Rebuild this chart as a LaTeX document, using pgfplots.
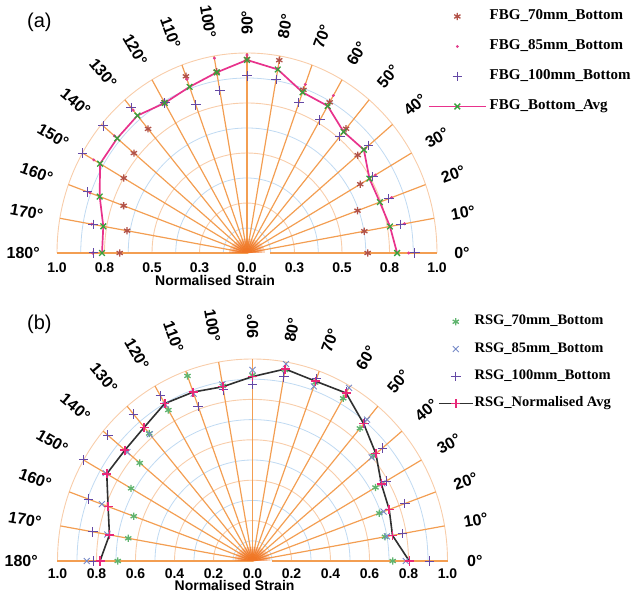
\documentclass[border=0pt]{standalone}
\usepackage{pgfplots}
\pgfplotsset{compat=1.18}
\usepackage{pgfplotstable}
\usepgfplotslibrary{polar}
\usepackage{fontspec}
\setmainfont{Liberation Sans}
\newfontfamily\lsans{Liberation Sans}
\newfontfamily\lserif{Liberation Serif}

\definecolor{radial}{RGB}{243,158,82}
\definecolor{ringO}{RGB}{248,205,170}
\definecolor{ringB}{RGB}{192,218,242}
\definecolor{blobc}{RGB}{240,110,30}
\definecolor{c70a}{RGB}{178,82,72}
\definecolor{c85a}{RGB}{226,60,140}
\definecolor{c100}{RGB}{100,72,165}
\definecolor{avga}{RGB}{232,50,140}
\definecolor{xgreen}{RGB}{55,160,60}
\definecolor{c70b}{RGB}{95,180,110}
\definecolor{c85b}{RGB}{118,138,200}
\definecolor{avgb}{RGB}{48,48,48}
\definecolor{pinkb}{RGB}{232,40,120}

\newcommand\ticfont{\lsans\bfseries\fontsize{14bp}{16bp}\selectfont}
\newcommand\angfont{\lsans\bfseries\fontsize{16bp}{18bp}\selectfont}

\pgfplotsset{
  legA/.style={legend image code/.code={\path (0bp,0bp) (57bp,0bp);
     \draw[mark repeat=2,mark phase=2,##1] plot coordinates {(0bp,0bp) (28.5bp,0bp) (57bp,0bp)};}},
  legB/.style={legend image code/.code={\path (0bp,0bp) (34bp,0bp);
     \draw[mark repeat=2,mark phase=2,##1] plot coordinates {(0bp,0bp) (17bp,0bp) (34bp,0bp)};}},
}

% angle (deg)  radius (normalised strain)
\pgfplotstableread{
ang r70 r85 r100 ravg
0   0.635 0.851 0.884 0.790
10  0.627 0.842 0.823 0.764
20  0.619 0.810 0.794 0.744
30  0.688 0.780 0.764 0.744
40  0.761 0.812 0.836 0.803
50  0.811 0.802 0.760 0.791
60  0.870 0.909 0.768 0.849
70  0.868 0.897 0.800 0.855
80  0.979 0.936 0.881 0.932
90  0.970 0.990 0.885 0.965
100 0.920 0.989 0.824 0.917
110 0.940 0.924 0.788 0.884
120 0.870 0.862 0.866 0.866
130 0.810 0.932 0.949 0.897
140 0.777 0.911 0.988 0.892
150 0.749 0.931 0.999 0.893
160 0.691 0.880 0.893 0.825
170 0.641 0.830 0.823 0.768
180 0.670 0.812 0.807 0.763
}\dataA

\pgfplotstableread{
ang r70 r85 r100 ravg
0   0.719 0.786 0.907 0.804
10  0.690 0.700 0.781 0.729
20  0.692 0.715 0.831 0.746
30  0.728 0.769 0.792 0.763
40  0.810 0.798 0.870 0.826
50  0.857 0.914 0.890 0.887
60  0.930 0.990 0.965 0.960
70  0.940 0.920 0.960 0.947
80  0.960 0.990 0.926 0.965
90  0.920 0.946 0.875 0.913
100 0.880 0.888 0.860 0.876
110 0.975 0.882 0.813 0.890
120 0.863 0.893 0.944 0.900
130 0.824 0.819 0.949 0.864
140 0.755 0.838 0.969 0.854
150 0.719 0.870 1.000 0.863
160 0.648 0.822 0.894 0.788
170 0.647 0.756 0.832 0.745
180 0.691 0.850 0.816 0.782
}\dataB

\begin{document}
\begin{tikzpicture}
\useasboundingbox (0,0) rectangle (631bp,598bp);

\node[font=\lsans\fontsize{20bp}{22bp}\selectfont, anchor=west, inner sep=0pt] at (27bp,575.5bp) {(a)};
\node[font=\lsans\fontsize{20bp}{22bp}\selectfont, anchor=west, inner sep=0pt] at (27bp,274bp) {(b)};

% ---------------- panel (a)
\begin{axis}[
  at={(57bp,345bp)}, anchor=south west,
  x=190bp, y=200bp,
  xmin=-1, xmax=1, ymin=0, ymax=1,
  clip=false,
  axis x line*=bottom, hide y axis,
  x axis line style={draw=none},
  major tick length=0pt,
  xtick={-1,-0.75,-0.5,-0.25,0,0.25,0.5,0.75,1},
  xticklabels={\textbf{1.0},\textbf{0.8},\textbf{0.5},\textbf{0.3},\textbf{0.0},\textbf{0.3},\textbf{0.5},\textbf{0.8},\textbf{1.0}},
  xticklabel style={font=\ticfont, anchor=north, inner sep=0pt, text height=10bp, text depth=0pt, yshift=-9bp},
  xlabel={Normalised Strain},
  xlabel style={at={(axis description cs:0.416,0)}, anchor=north, inner sep=0pt, text height=10bp, text depth=0pt, yshift=-22bp, font=\ticfont},
  legend style={at={(0.9763,1.22)}, anchor=north west, draw=none, fill=none,
     inner sep=0pt, outer sep=0pt, row sep=15bp,
     font=\lserif\bfseries\fontsize{15bp}{17bp}\selectfont,
     nodes={inner sep=0pt, text height=11bp, text depth=4bp},
     /tikz/every odd column/.append style={column sep=3bp},
     cells={anchor=west}},
]
\pgfplotsinvokeforeach{0.125,0.375,0.625,0.875}{
  \draw[ringB, line width=0.8bp] (axis cs:#1,0) arc[start angle=0, end angle=180, x radius=#1*190bp, y radius=#1*200bp];
}
\pgfplotsinvokeforeach{0.25,0.5,0.75,1}{
  \draw[ringO, line width=0.9bp] (axis cs:#1,0) arc[start angle=0, end angle=180, x radius=#1*190bp, y radius=#1*200bp];
}
\pgfplotsinvokeforeach{10,20,...,180}{
  \draw[radial, line width=1.2bp] (axis cs:0,0) -- (axis cs:{cos(#1)},{sin(#1)});
}
\draw[radial, line width=1.2bp] (axis cs:0.12,0) -- (axis cs:1,0);
\pgfplotsinvokeforeach{0,10,...,90}{
  \node[rotate=#1, anchor=west, inner sep=0pt, font=\angfont] at (axis cs:{1.09*cos(#1)},{1.09*sin(#1)}) {#1°};
}
\pgfplotsinvokeforeach{100,110,...,180}{
  \node[rotate=#1-180, anchor=east, inner sep=0pt, font=\angfont] at (axis cs:{1.09*cos(#1)},{1.09*sin(#1)}) {#1°};
}

\addplot[only marks, data cs=polar, color=c70a, mark=asterisk, mark size=3.6bp, mark options={line width=1.3bp}, legA]
  table[x=ang, y=r70] {\dataA};
\addlegendentry{FBG\_70mm\_Bottom}
\addplot[only marks, data cs=polar, color=c85a, mark=*, mark size=1.3bp, legA]
  table[x=ang, y=r85] {\dataA};
\addlegendentry{FBG\_85mm\_Bottom}
\addplot[only marks, data cs=polar, color=c100, mark=+, mark size=4.8bp, mark options={line width=1bp}, legA]
  table[x=ang, y=r100] {\dataA};
\addlegendentry{FBG\_100mm\_Bottom}
\addplot[data cs=polar, color=avga, line width=1.7bp, mark=x, mark size=4bp, mark options={xgreen, line width=1.3bp}, legA]
  table[x=ang, y=ravg] {\dataA};
\addlegendentry{FBG\_Bottom\_Avg}
\end{axis}

% ---------------- panel (b)
\begin{axis}[
  at={(57.5bp,37bp)}, anchor=south west,
  x=195bp, y=202bp,
  xmin=-1, xmax=1, ymin=0, ymax=1,
  clip=false,
  axis x line*=bottom, hide y axis,
  x axis line style={draw=none},
  major tick length=0pt,
  xtick={-1,-0.8,-0.6,-0.4,-0.2,0,0.2,0.4,0.6,0.8,1},
  xticklabels={\textbf{1.0},\textbf{0.8},\textbf{0.6},\textbf{0.4},\textbf{0.2},\textbf{0.0},\textbf{0.2},\textbf{0.4},\textbf{0.6},\textbf{0.8},\textbf{1.0}},
  xticklabel style={font=\ticfont, anchor=north, inner sep=0pt, text height=10bp, text depth=0pt, yshift=-7bp},
  xlabel={Normalised Strain},
  xlabel style={at={(axis description cs:0.454,0)}, anchor=north, inner sep=0pt, text height=10bp, text depth=0pt, yshift=-19bp, font=\ticfont},
  legend style={at={(0.9756,1.2203)}, anchor=north west, draw=none, fill=none,
     inner sep=0pt, outer sep=0pt, row sep=12.8bp,
     font=\lserif\bfseries\fontsize{14.5bp}{16.5bp}\selectfont,
     nodes={inner sep=0pt, text height=10.5bp, text depth=4bp},
     /tikz/every odd column/.append style={column sep=1bp},
     cells={anchor=west}},
]
\pgfplotsinvokeforeach{0.1,0.3,0.5,0.7,0.9}{
  \draw[ringB, line width=0.8bp] (axis cs:#1,0) arc[start angle=0, end angle=180, x radius=#1*195bp, y radius=#1*202bp];
}
\pgfplotsinvokeforeach{0.2,0.4,0.6,0.8,1}{
  \draw[ringO, line width=0.9bp] (axis cs:#1,0) arc[start angle=0, end angle=180, x radius=#1*195bp, y radius=#1*202bp];
}
\pgfplotsinvokeforeach{10,20,...,180}{
  \draw[radial, line width=1.2bp] (axis cs:0,0) -- (axis cs:{cos(#1)},{sin(#1)});
}
\draw[radial, line width=1.2bp] (axis cs:0.1,0) -- (axis cs:1,0);
\pgfplotsinvokeforeach{0,10,...,90}{
  \node[rotate=#1, anchor=west, inner sep=0pt, font=\angfont] at (axis cs:{1.1*cos(#1)},{1.1*sin(#1)}) {#1°};
}
\pgfplotsinvokeforeach{100,110,...,180}{
  \node[rotate=#1-180, anchor=east, inner sep=0pt, font=\angfont] at (axis cs:{1.1*cos(#1)},{1.1*sin(#1)}) {#1°};
}

\addplot[only marks, data cs=polar, color=c70b, mark=asterisk, mark size=3.6bp, mark options={line width=1.3bp}, legB]
  table[x=ang, y=r70] {\dataB};
\addlegendentry{RSG\_70mm\_Bottom}
\addplot[only marks, data cs=polar, color=c85b, mark=x, mark size=4.2bp, mark options={line width=0.9bp}, legB]
  table[x=ang, y=r85] {\dataB};
\addlegendentry{RSG\_85mm\_Bottom}
\addplot[only marks, data cs=polar, color=c100, mark=+, mark size=4.8bp, mark options={line width=1bp}, legB]
  table[x=ang, y=r100] {\dataB};
\addlegendentry{RSG\_100mm\_Bottom}
\addplot[data cs=polar, color=avgb, line width=1.6bp, mark=+, mark size=4.5bp, mark options={pinkb, line width=1.5bp}, legB]
  table[x=ang, y=ravg] {\dataB};
\addlegendentry{RSG\_Normalised Avg}
\end{axis}

% orange glow where the radial grid lines meet
\foreach \rr in {18,15,12,9,6} {
  \fill[blobc, opacity=0.28] ({247bp+\rr bp},345bp) arc[start angle=0, end angle=180, x radius=\rr bp, y radius=0.8*\rr bp] -- cycle;
  \fill[blobc, opacity=0.28] ({252.5bp+\rr bp},37bp) arc[start angle=0, end angle=180, x radius=\rr bp, y radius=0.8*\rr bp] -- cycle;
}
\end{tikzpicture}
\end{document}
